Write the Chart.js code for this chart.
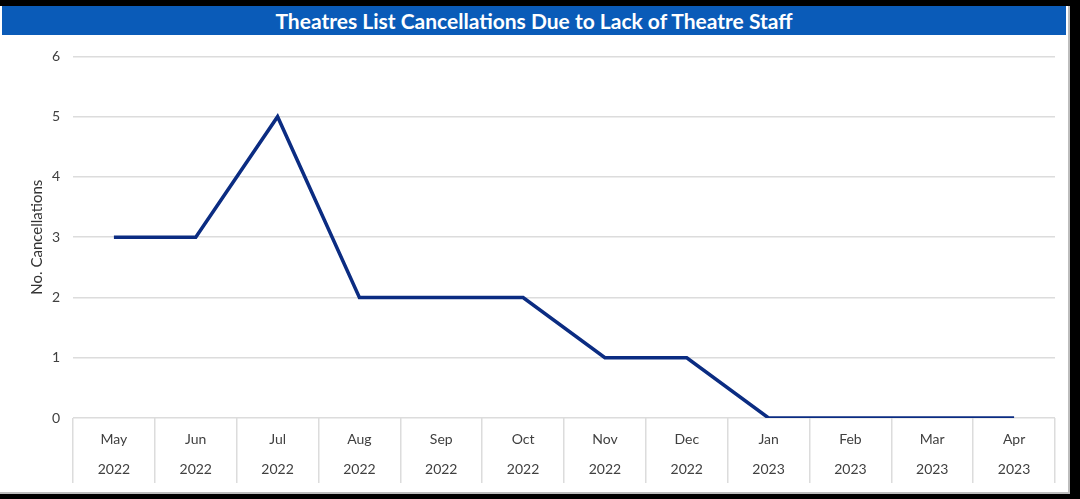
<!DOCTYPE html>
<html>
<head>
<meta charset="utf-8">
<script src="https://cdn.jsdelivr.net/npm/chart.js@4.4.0/dist/chart.umd.min.js"></script>
<style>
  html, body { margin: 0; padding: 0; background: #000; width: 1080px; height: 499px; overflow: hidden; }
  #frame {
    position: absolute; left: 0; top: 6px; width: 1068px; height: 486px;
    background: #fff; border-right: 2px solid #bdbdbd; border-bottom: 2px solid #bdbdbd;
  }
  #title {
    position: absolute; left: 2px; top: 0; width: 1064px; height: 29px;
    background: #0a5bb8; color: #fff; text-align: center;
    font: bold 21px Lato, "Open Sans", sans-serif; line-height: 29px;
  }
  #chartBox { position: absolute; left: 0; top: 29px; width: 1068px; height: 457px; }
</style>
</head>
<body>
<div id="frame">
  <div id="title">Theatres List Cancellations Due to Lack of Theatre Staff</div>
  <div id="chartBox"><canvas id="cancelChart"></canvas></div>
</div>
<script>
const months = ['May', 'Jun', 'Jul', 'Aug', 'Sep', 'Oct', 'Nov', 'Dec', 'Jan', 'Feb', 'Mar', 'Apr'];
const years = ['2022', '2022', '2022', '2022', '2022', '2022', '2022', '2022', '2023', '2023', '2023', '2023'];
const cancellations = [3, 3, 5, 2, 2, 2, 1, 1, 0, 0, 0, 0];

const chartlabels = months.map((m, i) => [m, years[i]]);

const cancelChart = new Chart(
    document.getElementById('cancelChart'),
    {
    type: 'line',
    options: {
        responsive: true,
        maintainAspectRatio: false,
        animation: false,
        layout: {
            padding: { left: 23, top: 9, right: 13, bottom: 0 }
        },
        plugins: {
            legend: { display: false },
            tooltip: { enabled: false }
        },
        scales: {
            x: {
                offset: true,
                border: { display: false },
                grid: {
                    offset: true,
                    drawOnChartArea: false,
                    tickLength: 65,
                    color: '#dcdcdc',
                    lineWidth: 1.5
                },
                ticks: {
                    padding: -58,
                    maxRotation: 0,
                    color: '#404040',
                    font: { family: 'Lato', size: 14, lineHeight: 2.1 }
                },
                afterFit: function (scale) { scale.height = 74; }
            },
            y: {
                min: 0,
                max: 6,
                border: { display: false },
                grid: {
                    drawTicks: false,
                    color: '#dcdcdc',
                    lineWidth: 1.5
                },
                ticks: {
                    stepSize: 1,
                    padding: 13,
                    color: '#404040',
                    font: { family: 'Lato', size: 14 }
                },
                title: {
                    display: true,
                    text: 'No. Cancellations',
                    color: '#333333',
                    font: { family: 'Lato', size: 15 },
                    padding: { top: 5, bottom: 0 }
                },
                afterFit: function (scale) { scale.width = 50; }
            }
        }
    },
    data: {
        labels: chartlabels,
        datasets: [{
            label: 'No. Cancellations',
            data: cancellations,
            borderColor: '#0b2c82',
            borderWidth: 3.5,
            pointRadius: 0,
            tension: 0,
            fill: false
        }]
    }
});
</script>
</body>
</html>
